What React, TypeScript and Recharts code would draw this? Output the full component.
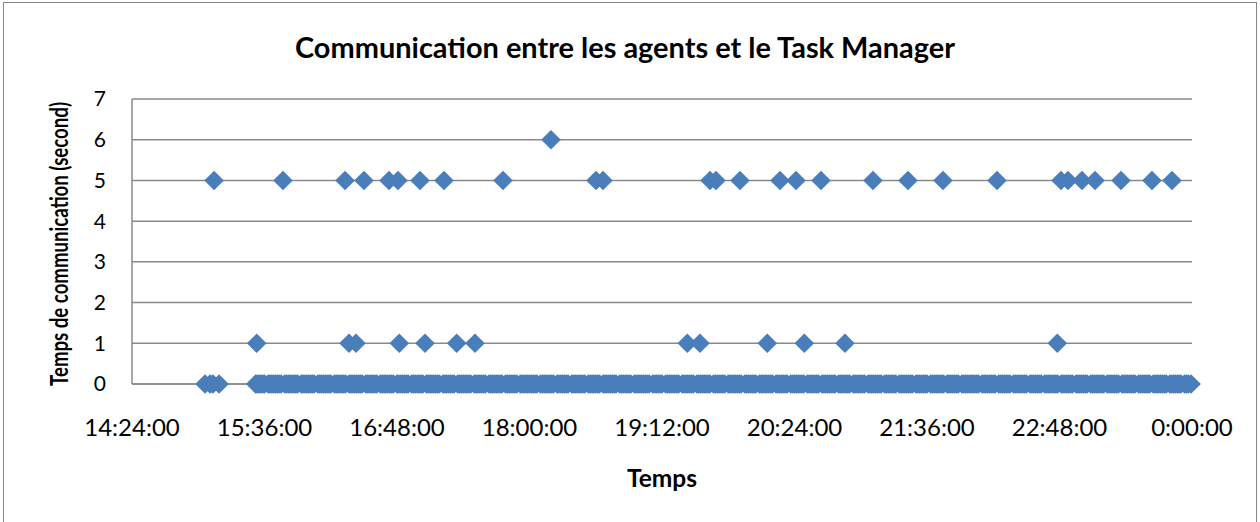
import React from "react";
import { ScatterChart, Scatter, XAxis, YAxis, CartesianGrid } from "recharts";

// minutes within each hour of the logged communications that took 0 s
const zeros15 = [3.7, 6.4, 8, 11.3, 31.2, 32, 33, 34, 35, 36, 38, 39, 40, 41, 42, 43, 44, 45, 47, 48, 49, 50, 51, 52, 53, 54, 56, 57, 58, 59];
const zeros16 = [0, 1, 2, 3, 5, 6, 7, 8, 9, 10, 11, 12, 14, 15, 16, 17, 18, 19, 20, 22, 23, 24, 25, 26, 27, 28, 29, 31, 32, 33, 34, 35, 36, 37, 39, 40, 41, 42, 43, 44, 45, 46, 48, 49, 50, 51, 52, 53, 54, 56, 57, 58, 59];
const zeros17 = [0, 1, 2, 4, 5, 6, 7, 8, 9, 10, 11, 13, 14, 15, 16, 17, 18, 19, 21, 22, 23, 24, 25, 26, 27, 28, 30, 31, 32, 33, 34, 35, 36, 38, 39, 40, 41, 42, 43, 44, 45, 47, 48, 49, 50, 51, 52, 53, 55, 56, 57, 58, 59];
const zeros18 = [0, 1, 2, 3, 4, 6, 7, 8, 9, 10, 11, 12, 13, 15, 16, 17, 18, 19, 20, 21, 23, 24, 25, 26, 27, 28, 29, 30, 32, 33, 34, 35, 36, 37, 38, 40, 41, 42, 43, 44, 45, 46, 47, 49, 50, 51, 52, 53, 54, 55, 57, 58, 59];
const zeros19 = [0, 1, 2, 3, 4, 5, 7, 8, 9, 10, 11, 12, 14, 15, 16, 17, 18, 19, 20, 21, 23, 24, 25, 26, 27, 28, 29, 31, 32, 33, 34, 35, 36, 37, 38, 40, 41, 42, 43, 44, 45, 46, 48, 49, 50, 51, 52, 53, 54, 55, 57, 58, 59];
const zeros20 = [0, 1, 2, 3, 5, 6, 7, 8, 9, 10, 11, 12, 14, 15, 16, 17, 18, 19, 20, 22, 23, 24, 25, 26, 27, 28, 29, 31, 32, 33, 34, 35, 36, 37, 39, 40, 41, 42, 43, 44, 45, 46, 48, 49, 50, 51, 52, 53, 54, 56, 57, 58, 59];
const zeros21 = [0, 1, 2, 4, 5, 6, 7, 8, 9, 10, 11, 13, 14, 15, 16, 17, 18, 19, 21, 22, 23, 24, 25, 26, 27, 28, 30, 31, 32, 33, 34, 35, 36, 38, 39, 40, 41, 42, 43, 44, 45, 47, 48, 49, 50, 51, 52, 53, 55, 56, 57, 58, 59];
const zeros22 = [0, 1, 2, 3, 4, 6, 7, 8, 9, 10, 11, 12, 13, 15, 16, 17, 18, 19, 20, 21, 23, 24, 25, 26, 27, 28, 29, 30, 32, 33, 34, 35, 36, 37, 38, 40, 41, 42, 43, 44, 45, 46, 47, 49, 50, 51, 52, 53, 54, 55, 57, 58, 59];
const zeros23 = [0, 1, 2, 3, 5, 6, 7, 8, 9, 10, 11, 12, 14, 15, 16, 17, 18, 19, 20, 22, 23, 24, 25, 26, 27, 28, 29, 31, 32, 33, 34, 35, 36, 37, 39, 40, 41, 42, 43, 44, 45, 46, 48, 49, 50, 51, 52, 53, 54, 56, 57, 58, 59.5];

// times (hh:mm:ss) of the longer communications
const timesOne = [
  "15:31:46", "16:21:55", "16:25:43", "16:49:15", "17:03:13", "17:20:26",
  "17:30:23", "19:25:45", "19:32:37", "20:09:13", "20:29:19", "20:51:26",
  "22:46:48",
];
const timesFive = [
  "15:08:36", "15:46:03", "16:19:45", "16:30:04", "16:43:39", "16:48:32",
  "17:00:30", "17:13:32", "17:45:36", "18:36:08", "18:39:56", "19:38:05",
  "19:41:20", "19:54:23", "20:16:07", "20:24:49", "20:38:24", "21:06:39",
  "21:25:40", "21:44:41", "22:14:02", "22:48:49", "22:52:37", "23:00:13",
  "23:07:18", "23:21:25", "23:38:15", "23:49:08",
];
const timesSix = ["18:11:41"];

const xTicks = ["14:24:00", "15:36:00", "16:48:00", "18:00:00", "19:12:00", "20:24:00", "21:36:00", "22:48:00", "24:00:00"];
const yTicks = [0, 1, 2, 3, 4, 5, 6, 7];

const toMin = (s: string) => {
  const [h, m, sec] = s.split(":").map(Number);
  return h * 60 + m + (sec || 0) / 60;
};

const fmtTime = (v: number) => {
  const total = Math.round(v * 60) % (24 * 3600);
  const h = Math.floor(total / 3600);
  const m = Math.floor((total % 3600) / 60);
  const s = total % 60;
  return `${h}:${String(m).padStart(2, "0")}:${String(s).padStart(2, "0")}`;
};

const zeroHours: [number, number[]][] = [
  [15, zeros15], [16, zeros16], [17, zeros17], [18, zeros18], [19, zeros19],
  [20, zeros20], [21, zeros21], [22, zeros22], [23, zeros23],
];

const points = [
  ...zeroHours.flatMap(([h, mins]) => mins.map((m) => ({ t: h * 60 + m, v: 0 }))),
  ...timesOne.map((t) => ({ t: toMin(t), v: 1 })),
  ...timesFive.map((t) => ({ t: toMin(t), v: 5 })),
  ...timesSix.map((t) => ({ t: toMin(t), v: 6 })),
];

const BLUE = "#4A7EBB";
const GRID = "#8A8A8A";
const FONT = "Lato, 'Open Sans', sans-serif";

const Diamond = (props: any) => {
  const { cx, cy } = props;
  const r = 9.8;
  return <path d={`M${cx},${cy - r}L${cx + r},${cy}L${cx},${cy + r}L${cx - r},${cy}Z`} fill={BLUE} />;
};

export default function App() {
  return (
    <div style={{ position: "absolute", left: 0, top: 0, width: 1260, height: 522, overflow: "hidden", background: "#fff", fontFamily: FONT }}>
      <div style={{ position: "absolute", left: 3, top: 2, width: 1252, height: 540, border: "1.5px solid #888" }} />
      <div style={{ position: "absolute", left: 0, top: 0 }}>
        <ScatterChart width={1260} height={522} margin={{ top: 99, right: 68, bottom: 98, left: 72 }}>
          <CartesianGrid vertical={false} stroke={GRID} strokeWidth={1.5} />
          <XAxis
            type="number"
            dataKey="t"
            domain={[toMin(xTicks[0]), toMin(xTicks[xTicks.length - 1])]}
            ticks={xTicks.map(toMin)}
            tickFormatter={fmtTime}
            height={40}
            tickSize={0}
            tickMargin={35}
            axisLine={{ stroke: GRID, strokeWidth: 1.5 }}
            tick={{ fill: "#000", fontSize: 24, fontFamily: FONT }}
            interval={0}
          />
          <YAxis
            type="number"
            dataKey="v"
            domain={[0, 7]}
            ticks={yTicks}
            width={60}
            tickSize={0}
            tickMargin={26}
            axisLine={{ stroke: GRID, strokeWidth: 1.5 }}
            tick={{ fill: "#000", fontSize: 21, fontFamily: FONT }}
            interval={0}
          />
          <Scatter data={points} shape={<Diamond />} isAnimationActive={false} />
        </ScatterChart>
      </div>
      <svg width={1260} height={522} style={{ position: "absolute", left: 0, top: 0, pointerEvents: "none" }}>
        <text x={625} y={58} textAnchor="middle" fontFamily={FONT} fontWeight={700} fontSize={29} textLength={660} lengthAdjust="spacingAndGlyphs" fill="#000">
          Communication entre les agents et le Task Manager
        </text>
        <text x={0} y={0} transform="translate(68,244) rotate(-90)" textAnchor="middle" fontFamily={FONT} fontWeight={700} fontSize={25} textLength={284} lengthAdjust="spacingAndGlyphs" fill="#000">
          Temps de communication (second)
        </text>
        <text x={662} y={487} textAnchor="middle" fontFamily={FONT} fontWeight={700} fontSize={24} textLength={70} lengthAdjust="spacingAndGlyphs" fill="#000">
          Temps
        </text>
      </svg>
    </div>
  );
}
